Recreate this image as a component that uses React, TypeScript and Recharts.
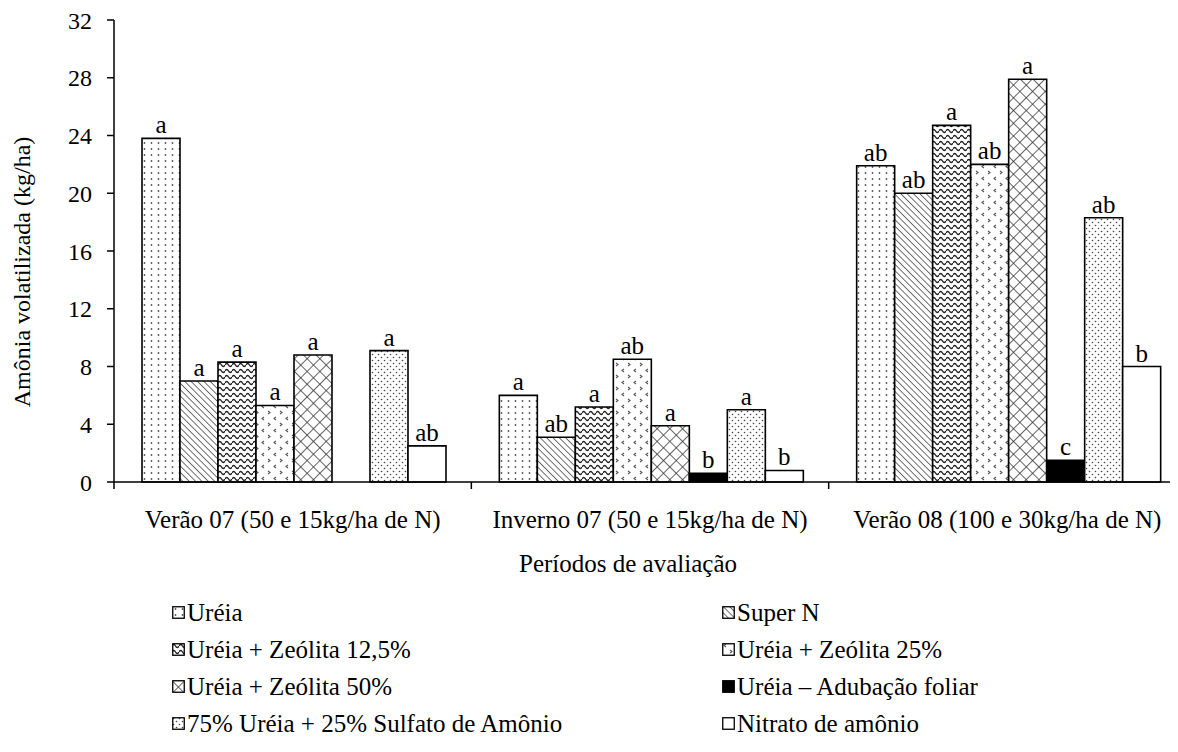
import { BarChart, Bar, XAxis, YAxis, Legend, LabelList } from 'recharts'

const categories = ['Verão 07 (50 e 15kg/ha de N)', 'Inverno 07 (50 e 15kg/ha de N)', 'Verão 08 (100 e 30kg/ha de N)']

const seriesNames = [
  'Uréia',
  'Super N',
  'Uréia + Zeólita 12,5%',
  'Uréia + Zeólita 25%',
  'Uréia + Zeólita 50%',
  'Uréia – Adubação foliar',
  '75% Uréia + 25% Sulfato de Amônio',
  'Nitrato de amônio',
]

// kg/ha, one value per period
const ureia = [23.8, 6.0, 21.9]
const superN = [7.0, 3.1, 20.0]
const zeolita125 = [8.3, 5.2, 24.7]
const zeolita25 = [5.3, 8.5, 22.0]
const zeolita50 = [8.8, 3.9, 27.9]
const foliar = [0, 0.6, 1.5]
const ureiaSulfato = [9.1, 5.0, 18.3]
const nitrato = [2.5, 0.8, 8.0]

// Tukey letters above each bar
const ureiaLetters = ['a', 'a', 'ab']
const superNLetters = ['a', 'ab', 'ab']
const zeolita125Letters = ['a', 'a', 'a']
const zeolita25Letters = ['a', 'ab', 'ab']
const zeolita50Letters = ['a', 'a', 'a']
const foliarLetters = ['b', 'b', 'c']
const ureiaSulfatoLetters = ['a', 'a', 'ab']
const nitratoLetters = ['ab', 'b', 'b']

const yTicks = [0, 4, 8, 12, 16, 20, 24, 28, 32]

const values = [ureia, superN, zeolita125, zeolita25, zeolita50, foliar, ureiaSulfato, nitrato]
const letters = [
  ureiaLetters,
  superNLetters,
  zeolita125Letters,
  zeolita25Letters,
  zeolita50Letters,
  foliarLetters,
  ureiaSulfatoLetters,
  nitratoLetters,
]

const data = categories.map((name, c) => {
  const row: Record<string, string | number> = { name }
  values.forEach((v, i) => {
    row[`s${i}`] = v[c]
    row[`l${i}`] = letters[i][c]
  })
  return row
})

const FONT = '"Liberation Serif", monospace'
const FS = 25
const TICK_FS = 24
const fills = ['url(#p0)', 'url(#p1)', 'url(#p2)', 'url(#p3)', 'url(#p4)', '#000', 'url(#p6)', '#fff']

function CategoryTick(props: any) {
  const { x, y, payload } = props
  const half = payload && payload.offset ? payload.offset : 178.7
  return (
    <g>
      <line x1={x - half} y1={y} x2={x - half} y2={y + 7} stroke="#000" strokeWidth={1.5} />
      <text x={x} y={y + 37} textAnchor="middle" dominantBaseline="central" style={{ fontFamily: FONT, fontSize: FS }} fill="#000">
        {payload.value}
      </text>
    </g>
  )
}

function LegendIcon({ i }: { i: number }) {
  return (
    <svg width={13} height={13} style={{ marginRight: 2, flex: 'none' }}>
      <rect x={0.75} y={0.75} width={11.5} height={11.5} fill={fills[i]} stroke="#000" strokeWidth={1.3} />
    </svg>
  )
}

function LegendBox() {
  return (
    <div
      style={{
        display: 'grid',
        gridTemplateColumns: '550px 1fr',
        gridAutoRows: 37,
        paddingLeft: 164,
        paddingTop: 2,
        fontFamily: FONT,
        fontSize: FS,
        color: '#000',
      }}
    >
      {seriesNames.map((n, i) => (
        <div key={n} style={{ display: 'flex', alignItems: 'center', whiteSpace: 'nowrap' }}>
          <LegendIcon i={i} />
          <span>{n}</span>
        </div>
      ))}
    </div>
  )
}

export default function App() {
  return (
    <div style={{ width: 1170, height: 744, overflow: 'hidden', fontFamily: FONT }}>
      <BarChart
        width={1180}
        height={744}
        data={data}
        margin={{ top: 12, right: 2, left: 0, bottom: 0 }}
        barCategoryGap={28}
        barGap={0}
        style={{ fontFamily: FONT }}
      >
        <defs>
          <pattern id="p0" patternUnits="userSpaceOnUse" width={7} height={6}>
            <rect width={7} height={6} fill="#fff" />
            <circle cx={3.5} cy={3} r={0.9} fill="#555" />
          </pattern>
          <pattern id="p1" patternUnits="userSpaceOnUse" width={4.5} height={4.5} patternTransform="rotate(-45)">
            <rect width={4.5} height={4.5} fill="#fff" />
            <line x1={0} y1={0} x2={0} y2={4.5} stroke="#333" strokeWidth={1.4} />
          </pattern>
          <pattern id="p2" patternUnits="userSpaceOnUse" width={7} height={6}>
            <rect width={7} height={6} fill="#fff" />
            <path d="M0 3 Q1.75 0 3.5 3 T7 3" stroke="#222" strokeWidth={1.4} fill="none" />
          </pattern>
          <pattern id="p3" patternUnits="userSpaceOnUse" width={12} height={12}>
            <rect width={12} height={12} fill="#fff" />
            <path d="M4 1 L2 2.5 L4 4" stroke="#555" strokeWidth={1.1} fill="none" />
            <path d="M8 7 L10 8.5 L8 10" stroke="#555" strokeWidth={1.1} fill="none" />
          </pattern>
          <pattern id="p4" patternUnits="userSpaceOnUse" width={9} height={9} patternTransform="rotate(45)">
            <rect width={9} height={9} fill="#fff" />
            <line x1={0} y1={0} x2={0} y2={9} stroke="#333" strokeWidth={1.5} />
            <line x1={0} y1={0} x2={9} y2={0} stroke="#333" strokeWidth={1.5} />
          </pattern>
          <pattern id="p6" patternUnits="userSpaceOnUse" width={6} height={6}>
            <rect width={6} height={6} fill="#fff" />
            <circle cx={1.5} cy={1.5} r={0.8} fill="#444" />
            <circle cx={4.5} cy={4.5} r={0.8} fill="#444" />
          </pattern>
        </defs>
        <XAxis
          dataKey="name"
          height={110}
          axisLine={{ stroke: '#000', strokeWidth: 1.5 }}
          tickLine={false}
          tickSize={0}
          tickMargin={0}
          interval={0}
          tick={<CategoryTick />}
          label={{
            value: 'Períodos de avaliação',
            position: 'insideBottom',
            offset: 20,
            dx: -22,
            style: { fontFamily: FONT, fontSize: FS, fill: '#000' },
          }}
        />
        <YAxis
          width={106}
          domain={[0, 32]}
          ticks={yTicks}
          interval={0}
          axisLine={{ stroke: '#000', strokeWidth: 1.5 }}
          tickLine={{ stroke: '#000', strokeWidth: 1.5 }}
          tickSize={7}
          tickMargin={15}
          tick={{ fontFamily: FONT, fontSize: TICK_FS, fill: '#000' }}
          label={{
            content: () => (
              <text
                x={14}
                y={264}
                transform="rotate(-90 14 264)"
                textAnchor="middle"
                dominantBaseline="central"
                style={{ fontFamily: FONT, fontSize: TICK_FS }}
                fill="#000"
              >
                Amônia volatilizada (kg/ha)
              </text>
            ),
          }}
        />
        <Legend verticalAlign="bottom" height={160} content={() => <LegendBox />} />
        {seriesNames.map((n, i) => (
          <Bar key={n} dataKey={`s${i}`} name={n} fill={fills[i]} stroke="#000" strokeWidth={1.6} isAnimationActive={false}>
            <LabelList dataKey={`l${i}`} position="top" offset={5} style={{ fontFamily: FONT, fontSize: FS, fill: '#000' }} />
          </Bar>
        ))}
      </BarChart>
    </div>
  )
}
